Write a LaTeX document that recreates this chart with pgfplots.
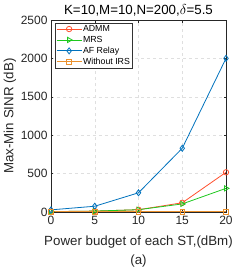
\documentclass[border=0pt]{standalone}
\usepackage{pgfplots}
\pgfplotsset{compat=1.18}
\usepackage{fontspec}
\setmainfont{Liberation Sans}
\definecolor{cadmm}{RGB}{255,80,45}
\definecolor{cmrs}{RGB}{30,200,30}
\definecolor{caf}{RGB}{0,114,189}
\definecolor{cwo}{RGB}{235,145,45}
\begin{document}
\begin{tikzpicture}
\useasboundingbox (-51pt,-56pt) rectangle (198pt,212pt);
\begin{axis}[
  at={(0pt,0pt)}, anchor=south west,
  width=175pt, height=192pt, scale only axis,
  xmin=0, xmax=20, ymin=0, ymax=2500,
  xtick={0,5,10,15,20}, ytick={0,500,1000,1500,2000,2500},
  axis line style={black!85},
  every tick/.style={black!85},
  grid=major, grid style={dashed, gray!25},
  tick label style={font=\fontsize{12}{14}\selectfont, text=black!85},
  xticklabel style={yshift=-1pt},
  label style={font=\fontsize{13.3}{15}\selectfont, text=black!85},
  xlabel={Power budget of each ST,(dBm)},
  xlabel style={at={(axis description cs:0.5,-0.155)}, anchor=center},
  ylabel={Max-Min SINR (dB)},
  ylabel style={at={(axis description cs:-0.235,0.5)}, anchor=center, rotate=0},
  /pgf/number format/assume math mode=true,
  scaled y ticks=false,
  yticklabel style={/pgf/number format/1000 sep={}},
  tick align=inside, major tick length=2.5pt,
  legend style={at={(0.023,0.986)}, anchor=north west, font=\fontsize{8.8}{10}\selectfont, draw=black!80, inner sep=1pt, row sep=0.6pt,
    nodes={inner sep=1pt, text height=6.5pt, text depth=1.8pt}, cells={anchor=west}},
  legend cell align=left,
  legend image code/.code={\draw[mark repeat=2,mark phase=2] plot coordinates {(0pt,0pt) (12.5pt,0pt) (25pt,0pt)};},
  every axis plot/.append style={line width=0.8pt},
]
\addplot[cadmm, mark=o, mark size=2.7pt, mark options={solid, fill=none}] coordinates {(0,5) (5,12) (10,30) (15,120) (20,517)};
\addlegendentry{ADMM}
\addplot[cmrs, mark=triangle, mark size=3pt, mark options={solid, fill=none, rotate=-90}] coordinates {(0,5) (5,12) (10,30) (15,105) (20,308)};
\addlegendentry{MRS}
\addplot[caf, mark=diamond, mark size=3pt, mark options={solid, fill=none}] coordinates {(0,28) (5,75) (10,250) (15,830) (20,2000)};
\addlegendentry{AF Relay}
\addplot[cwo, mark=square, mark size=2.3pt, mark options={solid, fill=none}] coordinates {(0,3) (5,3) (10,3) (15,3) (20,3)};
\addlegendentry{Without IRS}
\end{axis}
\node[anchor=center, text=black] at (87.5pt,201.5pt) {\fontsize{13.3}{15}\selectfont K=10,M=10,N=200,$\delta$=5.5};
\node[anchor=center, text=black!85] at (87.5pt,-48.7pt) {\fontsize{13.3}{15}\selectfont (a)};
\end{tikzpicture}
\end{document}
